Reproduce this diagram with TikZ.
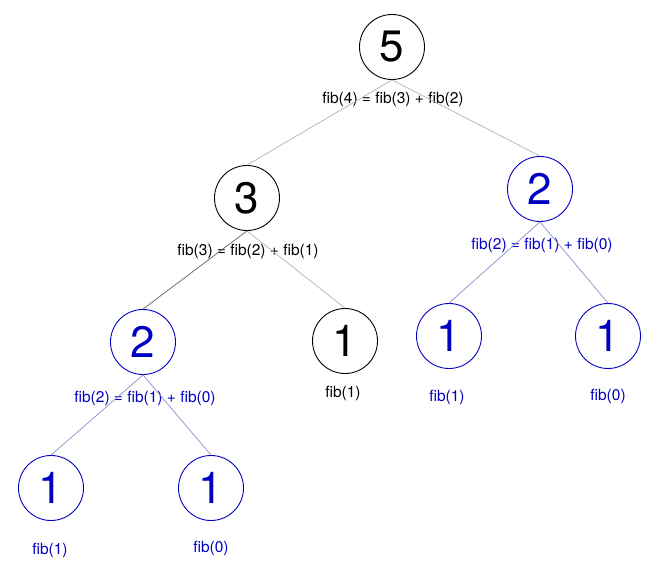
\documentclass[tikz,border=0pt]{standalone}
\usepackage{fontspec}
\setmainfont{TeX Gyre Heros}
\usepackage[dvipsnames]{xcolor}
\usetikzlibrary{calc}

\definecolor{fibblue}{RGB}{0,0,195}
\definecolor{edgeblue}{RGB}{140,140,205}

\tikzset{
  num/.style={circle, draw, line width=0.9pt, minimum size=65pt, inner sep=0pt,
    font=\fontsize{44}{44}\selectfont},
  bluenum/.style={num, draw=fibblue, text=fibblue},
  lbl/.style={inner sep=0pt, font=\fontsize{15.5}{18}\selectfont},
  bluelbl/.style={lbl, text=fibblue},
  edge/.style={draw=black!30, line width=0.7pt},
  darkedge/.style={draw=black!60, line width=0.7pt},
  blueedge/.style={draw=edgeblue, line width=0.7pt}
}

\begin{document}
\begin{tikzpicture}[x=1pt,y=-1pt]
    \useasboundingbox (0,0) rectangle (664,583);
    % top of the tree
    \node[num] (n5) at (392,47) {5};
    \node[lbl] (l5) at (393,99) {fib(4) = fib(3) + fib(2)};
    \node[num] (n3) at (247,198) {3};
    \node[lbl] (l3) at (248,251) {fib(3) = fib(2) + fib(1)};
    \node[bluenum] (n2r) at (540,189) {2};
    \node[bluelbl] (l2r) at (542,245) {fib(2) = fib(1) + fib(0)};
    % middle row
    \node[bluenum] (n2l) at (143,342) {2};
    \node[bluelbl] (l2l) at (145,398) {fib(2) = fib(1) + fib(0)};
    \node[num] (n1m) at (345,341) {1};
    \node[lbl] (l1m) at (343,393) {fib(1)};
    \node[bluenum] (n1a) at (449,336) {1};
    \node[bluelbl] (l1a) at (447,397) {fib(1)};
    \node[bluenum] (n1b) at (608,336) {1};
    \node[bluelbl] (l1b) at (608,396) {fib(0)};
    % bottom row
    \node[bluenum] (n1c) at (51,488) {1};
    \node[bluelbl] (l1c) at (50,550) {fib(1)};
    \node[bluenum] (n1d) at (211,488) {1};
    \node[bluelbl] (l1d) at (211,548) {fib(0)};
    % edges
    \draw[edge] (n5.south) -- (n3.north);
    \draw[edge] (n5.south) -- (n2r.north);
    \draw[darkedge] (n3.south) -- (n2l.north);
    \draw[edge] (n3.south) -- (n1m.north);
    \draw[blueedge] (n2r.south) -- (n1a.north);
    \draw[blueedge] (n2r.south) -- (n1b.north);
    \draw[blueedge] (n2l.south) -- (n1c.north);
    \draw[blueedge] (n2l.south) -- (n1d.north);
\end{tikzpicture}
\end{document}
